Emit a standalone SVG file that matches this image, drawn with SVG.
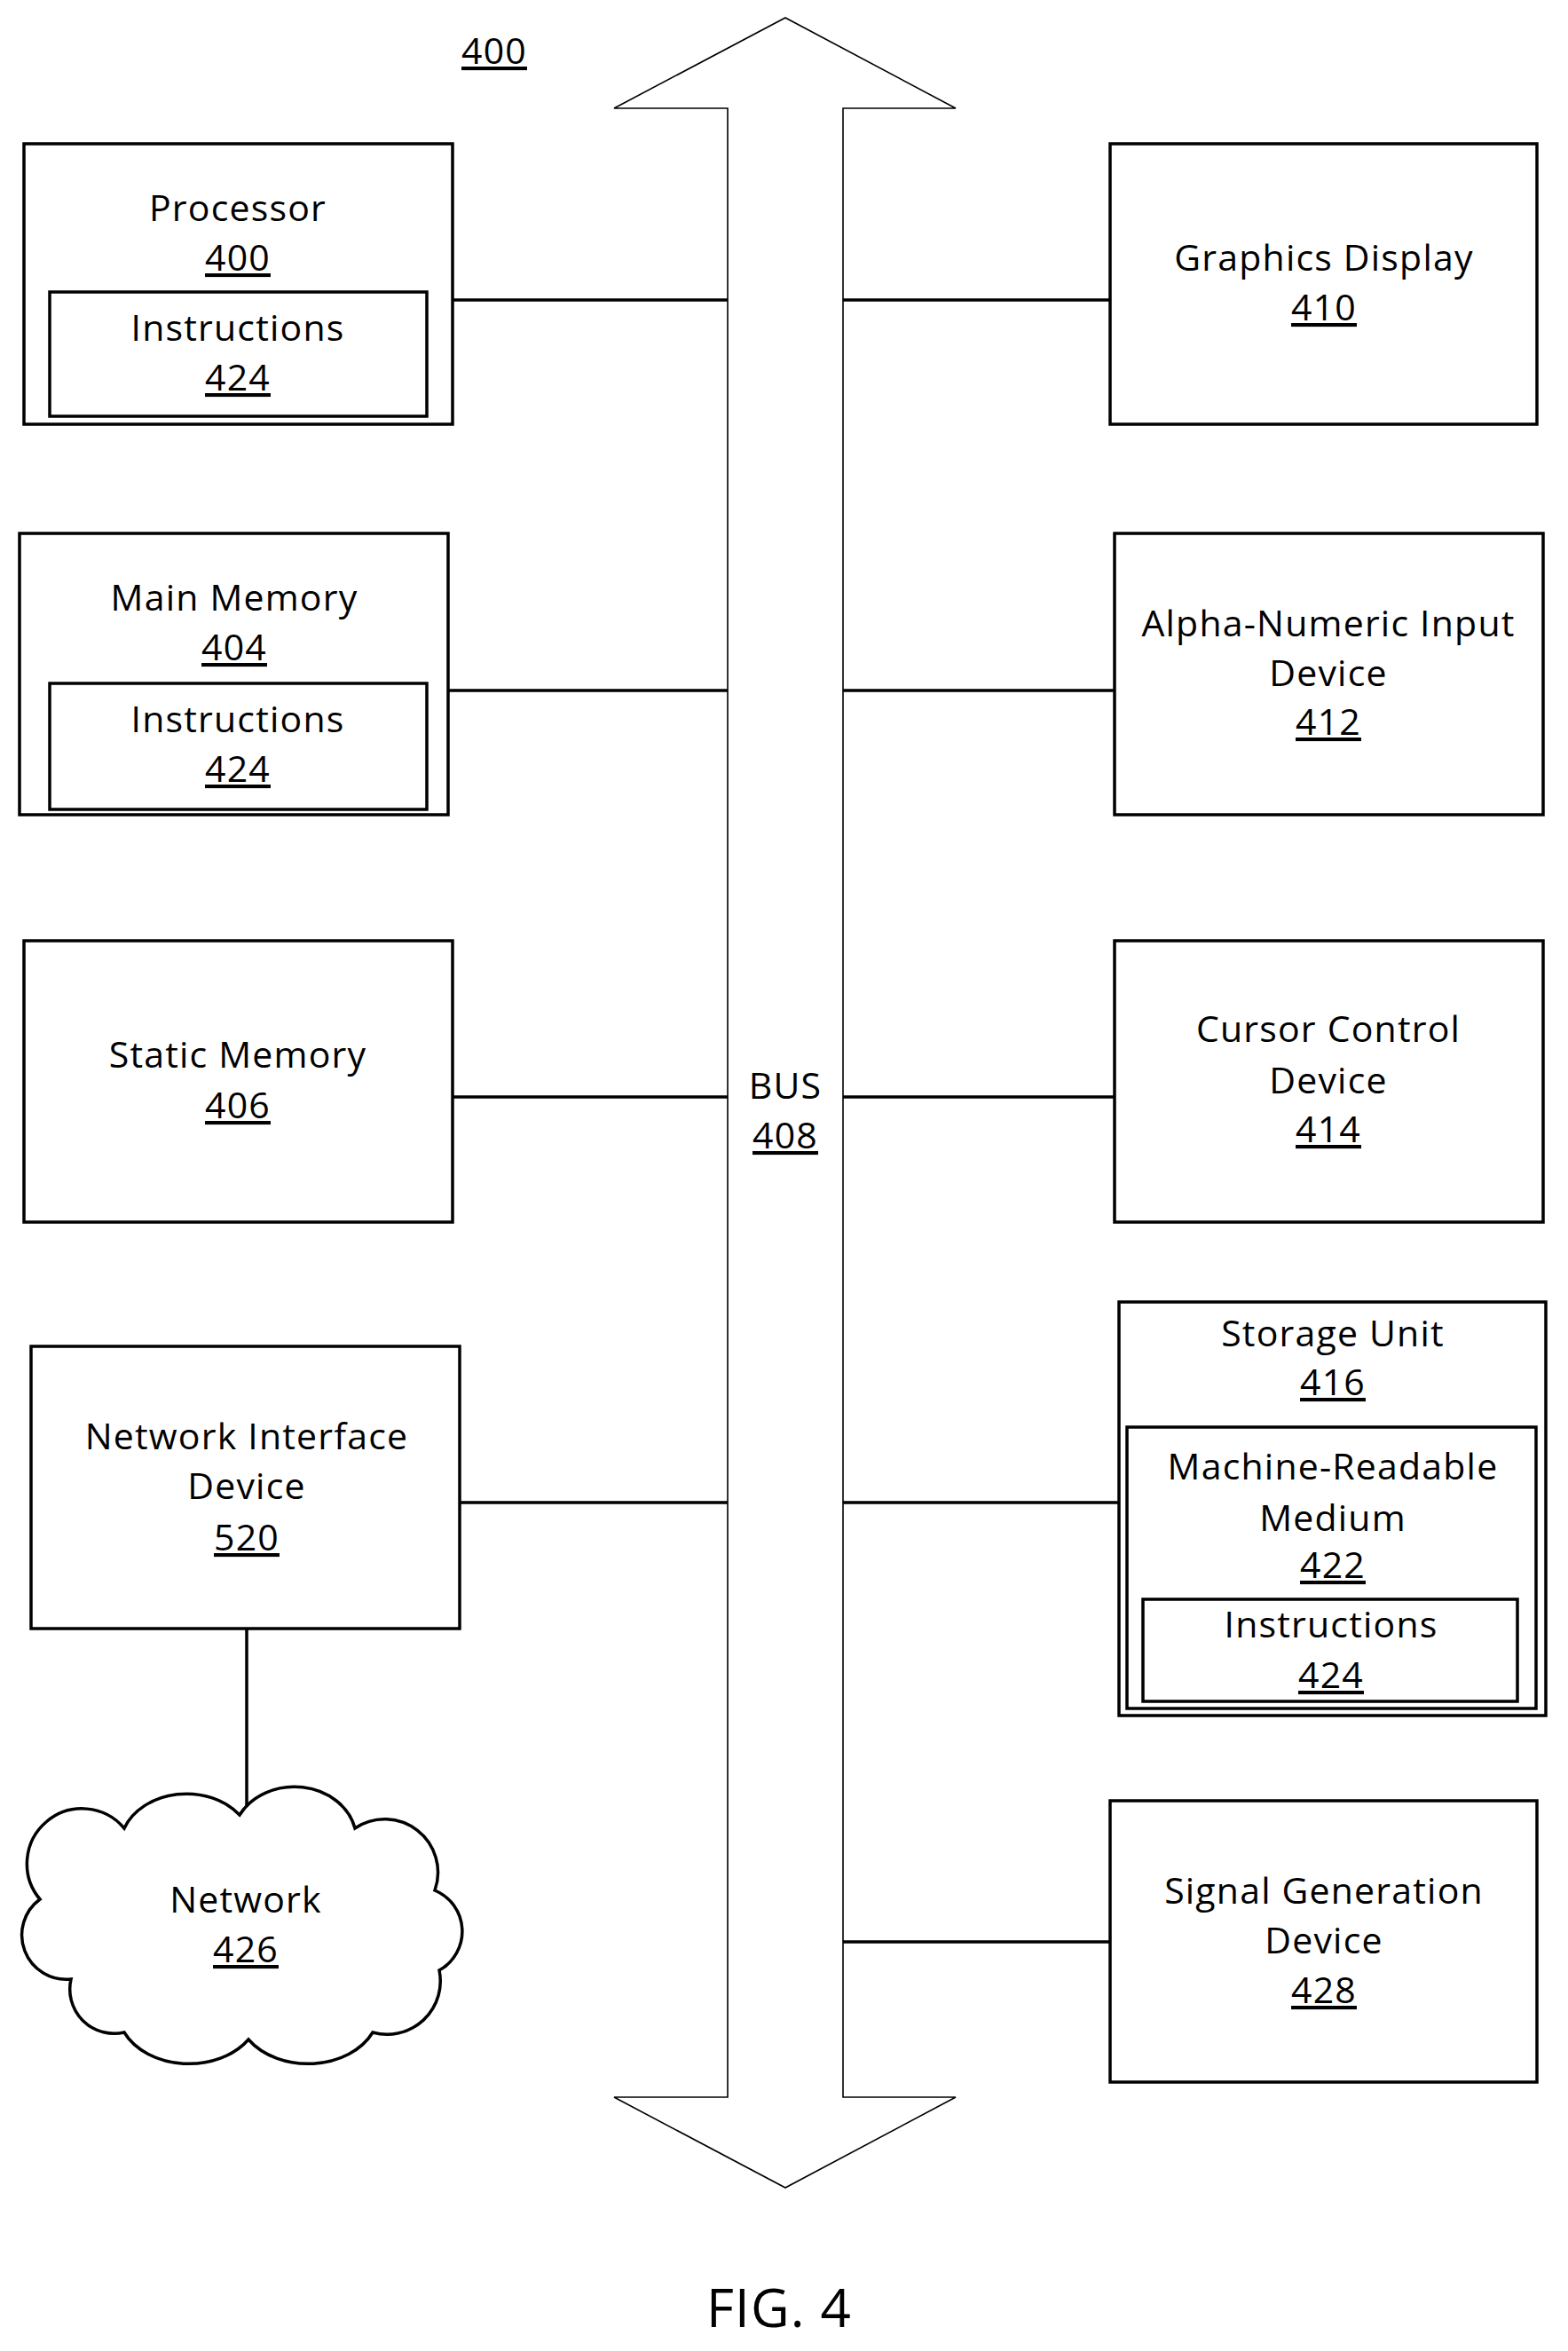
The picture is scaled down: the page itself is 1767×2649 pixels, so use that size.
<svg xmlns="http://www.w3.org/2000/svg" width="1767" height="2649" viewBox="0 0 1767 2649">
<style>
.box{fill:none;stroke:#000;stroke-width:3.5}
.thin{fill:#fff;stroke:#000;stroke-width:1.6}
.con{stroke:#000;stroke-width:3.5}
text{font-family:"Open Sans","Liberation Sans",sans-serif;font-size:41px;letter-spacing:1.2px;text-anchor:middle;fill:#000}
.u{text-decoration:underline}
</style>
<rect width="1767" height="2649" fill="#fff"/>
<g id="bus">
<path class="thin" d="M820 2363 V122 H692 L885 20 L1077 122 H950 V2363 H1077 L885 2465 L692 2363 Z"/>
<text x="885" y="1238">BUS</text>
<text x="885" y="1294" class="u">408</text>
</g>
<text x="557" y="72" class="u">400</text>
<g id="connectors">
<line class="con" x1="510" y1="338" x2="820" y2="338"/>
<line class="con" x1="950" y1="338" x2="1251" y2="338"/>
<line class="con" x1="505" y1="778" x2="820" y2="778"/>
<line class="con" x1="950" y1="778" x2="1256" y2="778"/>
<line class="con" x1="510" y1="1236" x2="820" y2="1236"/>
<line class="con" x1="950" y1="1236" x2="1256" y2="1236"/>
<line class="con" x1="518" y1="1693" x2="820" y2="1693"/>
<line class="con" x1="950" y1="1693" x2="1261" y2="1693"/>
<line class="con" x1="950" y1="2188" x2="1251" y2="2188"/>
<line class="con" x1="278" y1="1835" x2="278" y2="2047"/>
</g>
<g id="processor">
<rect class="box" x="27" y="162" width="483" height="316"/>
<rect class="box" x="56" y="329" width="425" height="140"/>
<text x="268" y="249">Processor</text><text x="268" y="305" class="u">400</text>
<text x="268" y="384">Instructions</text><text x="268" y="440" class="u">424</text>
</g>
<g id="graphics">
<rect class="box" x="1251" y="162" width="481" height="316"/>
<text x="1492" y="305">Graphics Display</text><text x="1492" y="361" class="u">410</text>
</g>
<g id="mainmem">
<rect class="box" x="22" y="601" width="483" height="317"/>
<rect class="box" x="56" y="770" width="425" height="142"/>
<text x="264" y="688">Main Memory</text><text x="264" y="744" class="u">404</text>
<text x="268" y="825">Instructions</text><text x="268" y="881" class="u">424</text>
</g>
<g id="alpha">
<rect class="box" x="1256" y="601" width="483" height="317"/>
<text x="1497" y="717">Alpha-Numeric Input</text><text x="1497" y="773">Device</text><text x="1497" y="828" class="u">412</text>
</g>
<g id="static">
<rect class="box" x="27" y="1060" width="483" height="317"/>
<text x="268" y="1203">Static Memory</text><text x="268" y="1260" class="u">406</text>
</g>
<g id="cursor">
<rect class="box" x="1256" y="1060" width="483" height="317"/>
<text x="1497" y="1174">Cursor Control</text><text x="1497" y="1232">Device</text><text x="1497" y="1287" class="u">414</text>
</g>
<g id="netif">
<rect class="box" x="35" y="1517" width="483" height="318"/>
<text x="278" y="1633">Network Interface</text><text x="278" y="1689">Device</text><text x="278" y="1747" class="u">520</text>
</g>
<g id="storage">
<rect class="box" x="1261" y="1467" width="481" height="466"/>
<rect class="box" x="1270" y="1608" width="461" height="317"/>
<rect class="box" x="1288" y="1802" width="422" height="115"/>
<text x="1502" y="1517">Storage Unit</text><text x="1502" y="1572" class="u">416</text>
<text x="1502" y="1667">Machine-Readable</text><text x="1502" y="1725">Medium</text><text x="1502" y="1778" class="u">422</text>
<text x="1500" y="1845">Instructions</text><text x="1500" y="1902" class="u">424</text>
</g>
<g id="signal">
<rect class="box" x="1251" y="2029" width="481" height="317"/>
<text x="1492" y="2145">Signal Generation</text><text x="1492" y="2201">Device</text><text x="1492" y="2257" class="u">428</text>
</g>
<g id="network">
<path fill="#fff" stroke="#000" stroke-width="3.5" d="M80 2230 A50 50 0 0 1 45 2140 A60 60 0 0 1 140 2060 A75 60 0 0 1 270 2045 A70 60 0 0 1 400 2060 A60 60 0 0 1 490 2130 A50 50 0 0 1 495 2220 A60 60 0 0 1 420 2290 A80 60 0 0 1 280 2298 A80 60 0 0 1 140 2290 A50 50 0 0 1 80 2230 Z"/>
<text x="277" y="2155">Network</text><text x="277" y="2211" class="u">426</text>
</g>
<text x="878" y="2622" style="font-size:60px">FIG. 4</text>
</svg>
